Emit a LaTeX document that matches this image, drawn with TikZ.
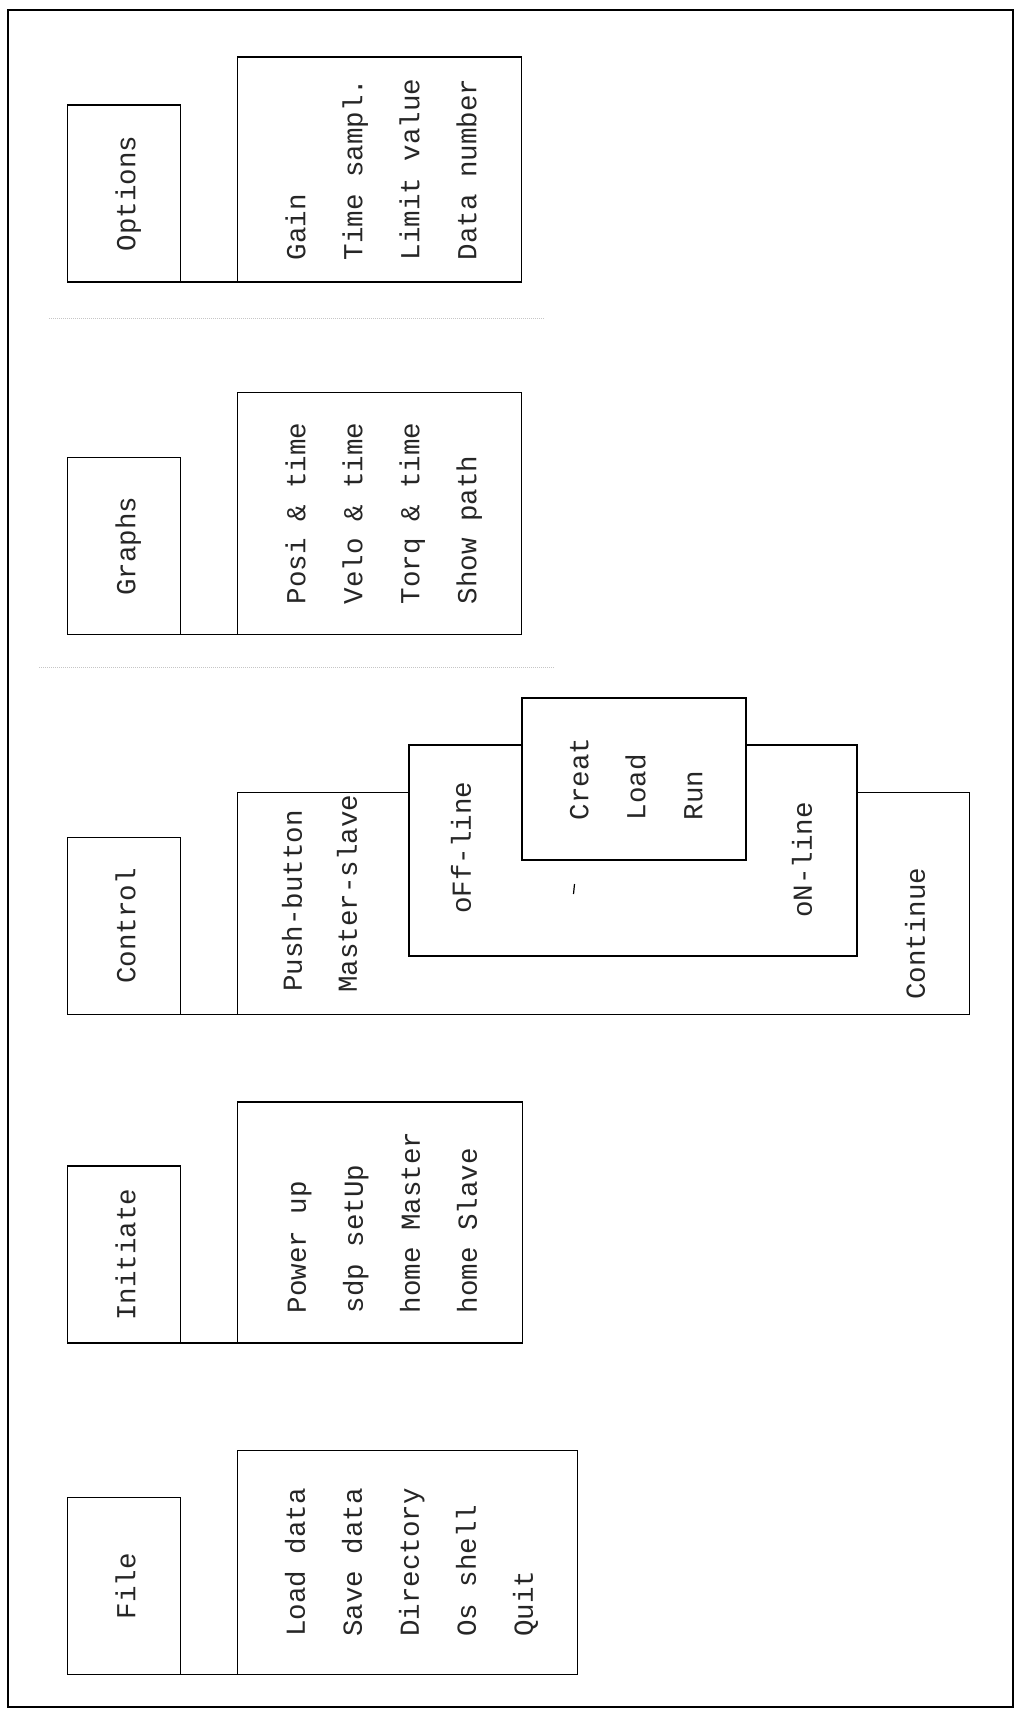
\documentclass[tikz,border=0pt]{standalone}
\usepackage{fontspec}
\usepackage{graphicx}
\usetikzlibrary{positioning}
\newfontfamily\dotfont{Liberation Mono}
\newcommand{\sideways}[1]{\rotatebox{90}{\begin{tabular}{@{}l@{}}#1\end{tabular}}}

\begin{document}
\begin{tikzpicture}[x=1pt, y=-1pt,
    headbox/.style={rectangle, draw, line width=1.5pt, fill=white, minimum width=113pt, minimum height=177pt, inner sep=0pt, outer sep=0pt},
    subbox/.style={rectangle, draw, line width=1.5pt, fill=white, inner sep=0pt, outer sep=0pt},
    itemtext/.style={rotate=90, anchor=west, inner sep=0pt},
    every node/.style={font=\dotfont\fontsize{27.5}{57}\selectfont, text=black!85},
    node distance=57pt
  ]
    \useasboundingbox (0,0) rectangle (1018,1712);
    \draw[line width=1.5pt] (8,10) rectangle (1013,1707);

    % faint fold lines
    \draw[gray!45, densely dotted, line width=1pt] (49,318) -- (545,318);
    \draw[gray!45, densely dotted, line width=1pt] (39,667) -- (555,667);

    % Options
    \node[headbox] (opthead) at (124,193.5) {\sideways{Options}};
    \node[subbox, minimum width=284pt, minimum height=225pt, right=of opthead.south east, anchor=south west] (optsub) {\sideways{Gain\\Time sampl.\\Limit value\\Data number}};
    \draw[line width=1.5pt] (opthead.south east) -- (optsub.south west);

    % Graphs
    \node[headbox] (grahead) at (124,546) {\sideways{Graphs}};
    \node[subbox, minimum width=284pt, minimum height=242pt, right=of grahead.south east, anchor=south west] (grasub) {\sideways{Posi \& time\\Velo \& time\\Torq \& time\\Show path}};
    \draw[line width=1.5pt] (grahead.south east) -- (grasub.south west);

    % Control
    \node[headbox] (conhead) at (124,926) {\sideways{Control}};
    \node[subbox, minimum width=732pt, minimum height=222pt, right=of conhead.south east, anchor=south west] (consub) {};
    \draw[line width=1.5pt] (conhead.south east) -- (consub.south west);
    \node[subbox, minimum width=448pt, minimum height=211pt] (lines) at (633,850.5) {};
    \node[subbox, minimum width=224pt, minimum height=162pt] (prog) at (634,779) {\sideways{Creat\\Load\\Run}};
    \node[itemtext] (push) at (292,992) {Push-button};
    \node[itemtext] (master) at (347,993) {Master-slave};
    \node[itemtext] (offline) at (461,914) {oFf-line};
    \node[itemtext] (online) at (802,918) {oN-line};
    \node[itemtext] (cont) at (915,1000) {Continue};
    \draw[line width=1.2pt] (574.5,884) -- (573.5,894);

    % Initiate
    \node[headbox] (inihead) at (124,1254.5) {\sideways{Initiate}};
    \node[subbox, minimum width=285pt, minimum height=241pt, right=of inihead.south east, anchor=south west] (inisub) {\sideways{Power up\\sdp setUp\\home Master\\home Slave}};
    \draw[line width=1.5pt] (inihead.south east) -- (inisub.south west);

    % File
    \node[headbox] (filehead) at (124,1586) {\sideways{File}};
    \node[subbox, minimum width=340pt, minimum height=224pt, right=of filehead.south east, anchor=south west] (filesub) {\sideways{Load data\\Save data\\Directory\\Os shell\\Quit}};
    \draw[line width=1.5pt] (filehead.south east) -- (filesub.south west);
\end{tikzpicture}
\end{document}
